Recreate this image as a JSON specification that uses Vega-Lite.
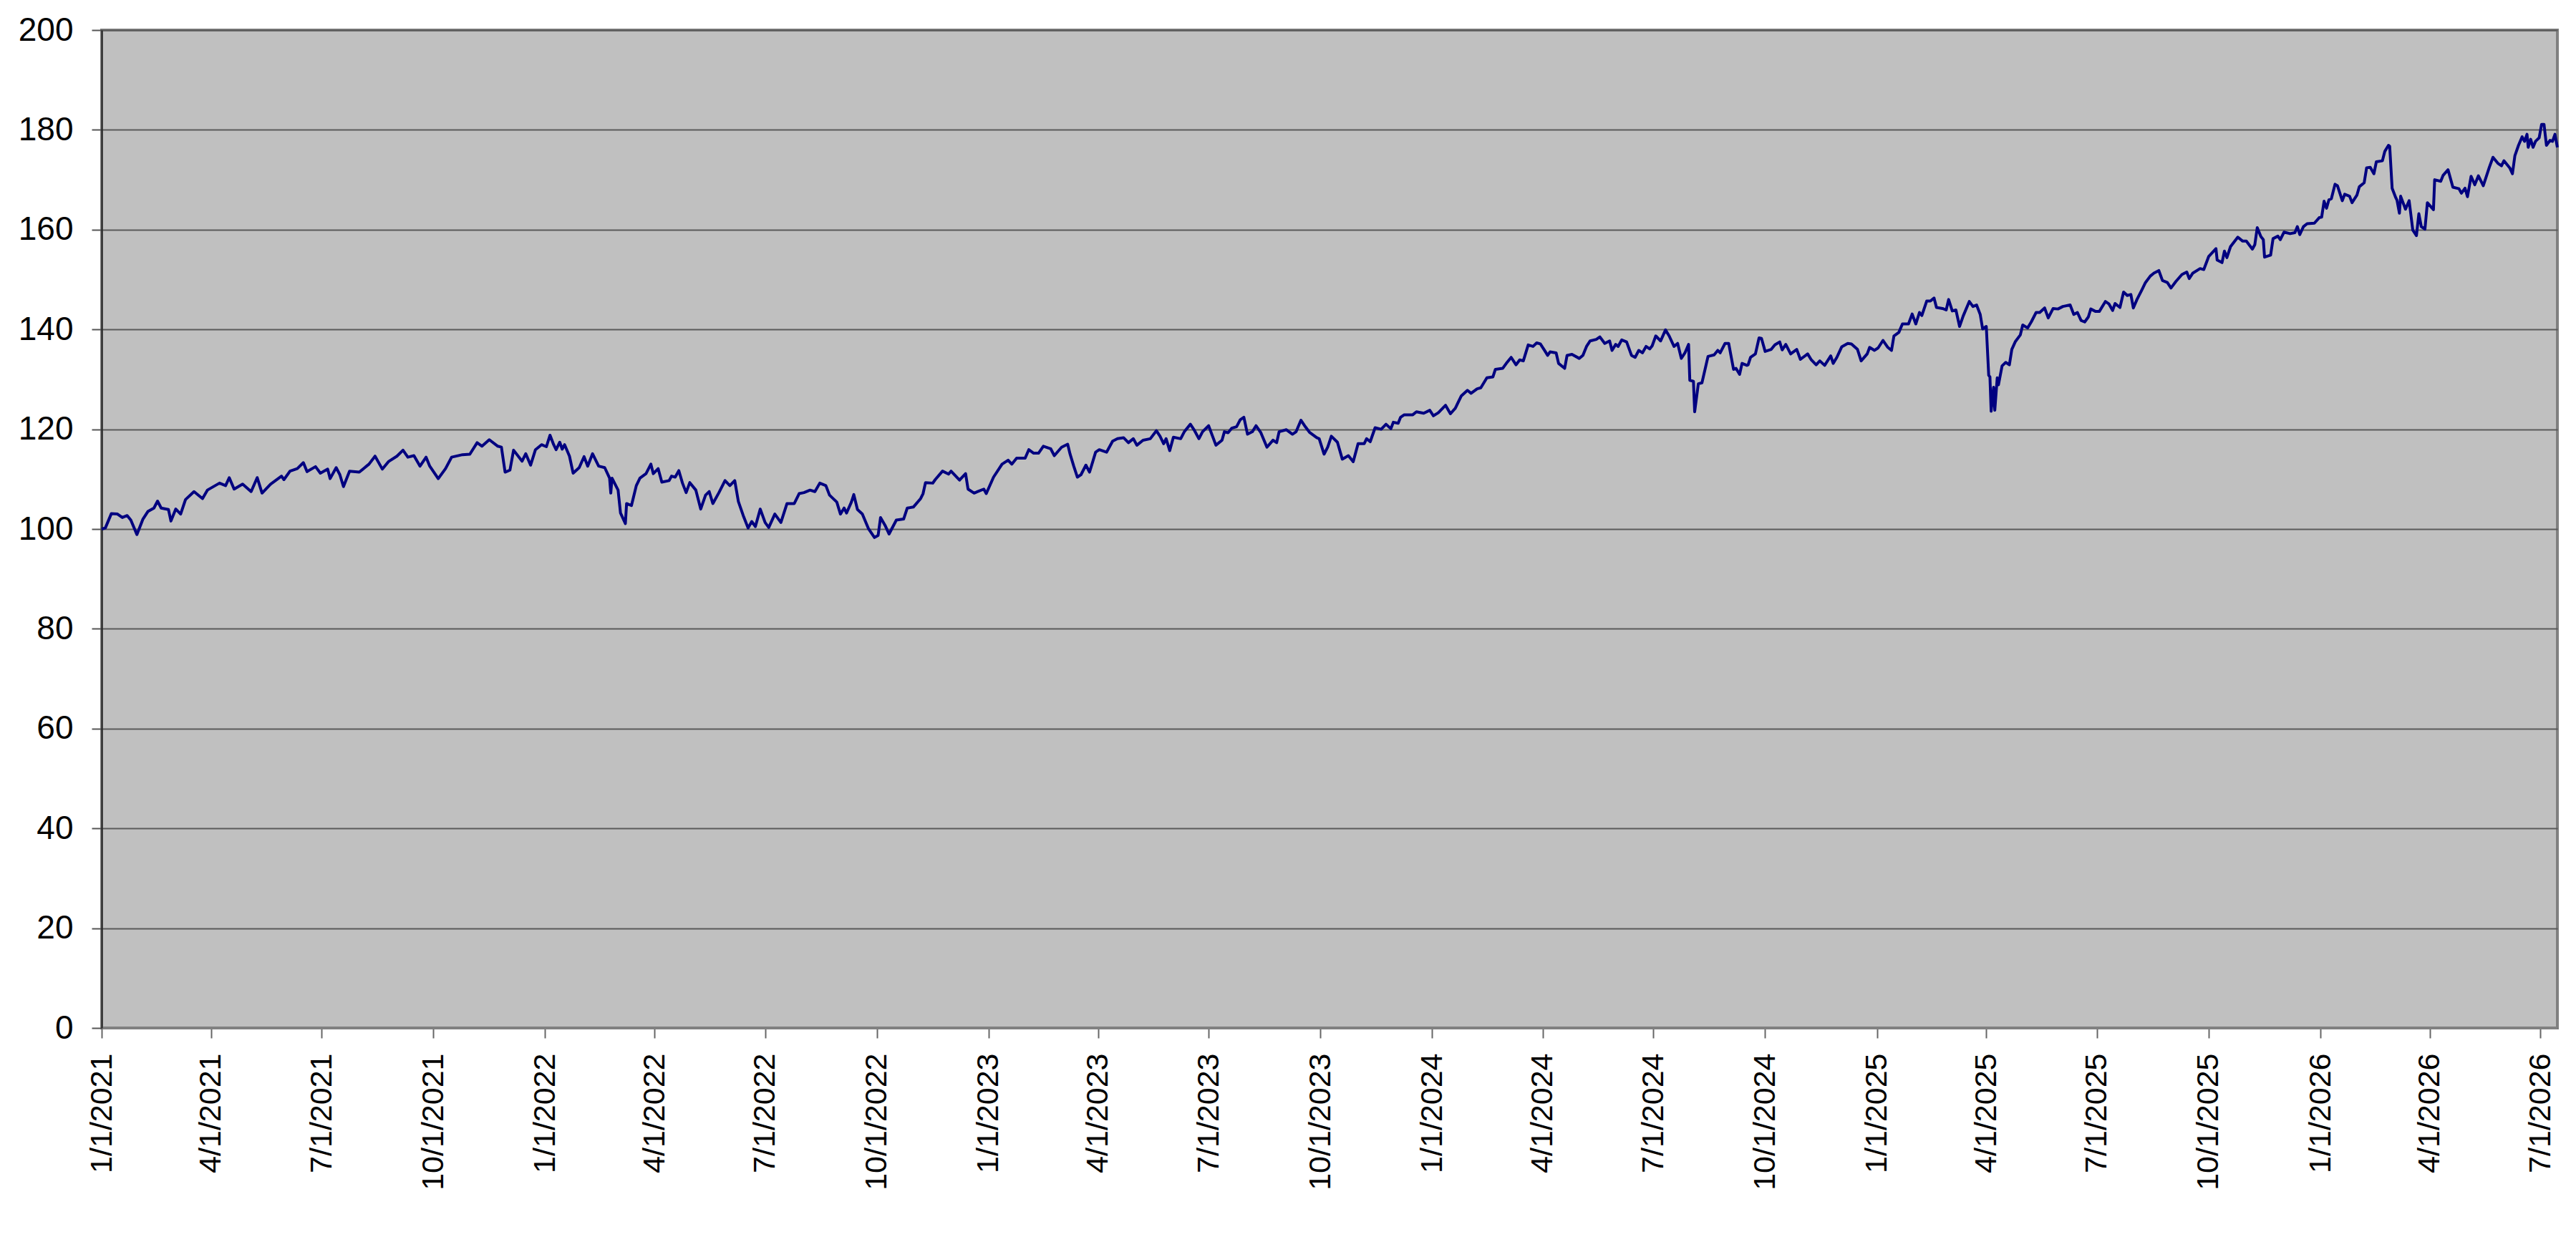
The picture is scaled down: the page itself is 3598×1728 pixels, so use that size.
{
  "$schema": "https://vega.github.io/schema/vega-lite/v6.json",
  "autosize": {"type": "none"},
  "padding": {"left": 142, "top": 42, "right": 26, "bottom": 292},
  "width": 3430,
  "height": 1394,
  "background": "#ffffff",
  "data": {
    "values": [
      {"d": "2021-01-01", "v": 100.0}, {"d": "2021-01-04", "v": 100.2}, {"d": "2021-01-09", "v": 103.1}, {"d": "2021-01-14", "v": 103.0},
      {"d": "2021-01-18", "v": 102.3}, {"d": "2021-01-22", "v": 102.7}, {"d": "2021-01-25", "v": 101.8}, {"d": "2021-01-30", "v": 98.9},
      {"d": "2021-02-04", "v": 102.0}, {"d": "2021-02-08", "v": 103.5}, {"d": "2021-02-13", "v": 104.2}, {"d": "2021-02-16", "v": 105.6},
      {"d": "2021-02-19", "v": 104.2}, {"d": "2021-02-25", "v": 103.9}, {"d": "2021-02-27", "v": 101.6}, {"d": "2021-03-03", "v": 104.0},
      {"d": "2021-03-07", "v": 103.0}, {"d": "2021-03-11", "v": 105.9}, {"d": "2021-03-18", "v": 107.5}, {"d": "2021-03-25", "v": 106.1},
      {"d": "2021-03-29", "v": 107.8}, {"d": "2021-04-08", "v": 109.2}, {"d": "2021-04-13", "v": 108.7}, {"d": "2021-04-16", "v": 110.3},
      {"d": "2021-04-20", "v": 108.0}, {"d": "2021-04-27", "v": 109.0}, {"d": "2021-05-04", "v": 107.5}, {"d": "2021-05-09", "v": 110.3},
      {"d": "2021-05-13", "v": 107.2}, {"d": "2021-05-20", "v": 109.0}, {"d": "2021-05-29", "v": 110.6}, {"d": "2021-05-31", "v": 109.9},
      {"d": "2021-06-05", "v": 111.6}, {"d": "2021-06-11", "v": 112.1}, {"d": "2021-06-16", "v": 113.3}, {"d": "2021-06-19", "v": 111.5},
      {"d": "2021-06-26", "v": 112.5}, {"d": "2021-06-30", "v": 111.2}, {"d": "2021-07-06", "v": 112.0}, {"d": "2021-07-08", "v": 110.1},
      {"d": "2021-07-13", "v": 112.3}, {"d": "2021-07-16", "v": 110.9}, {"d": "2021-07-19", "v": 108.5}, {"d": "2021-07-24", "v": 111.6},
      {"d": "2021-08-01", "v": 111.4}, {"d": "2021-08-09", "v": 113.0}, {"d": "2021-08-14", "v": 114.6}, {"d": "2021-08-20", "v": 112.0},
      {"d": "2021-08-25", "v": 113.5}, {"d": "2021-09-01", "v": 114.6}, {"d": "2021-09-06", "v": 115.8}, {"d": "2021-09-10", "v": 114.4},
      {"d": "2021-09-15", "v": 114.7}, {"d": "2021-09-20", "v": 112.6}, {"d": "2021-09-25", "v": 114.4}, {"d": "2021-09-28", "v": 112.6},
      {"d": "2021-10-05", "v": 110.1}, {"d": "2021-10-11", "v": 112.1}, {"d": "2021-10-16", "v": 114.4}, {"d": "2021-10-25", "v": 114.9},
      {"d": "2021-10-31", "v": 115.0}, {"d": "2021-11-06", "v": 117.3}, {"d": "2021-11-10", "v": 116.6}, {"d": "2021-11-16", "v": 117.9},
      {"d": "2021-11-23", "v": 116.6}, {"d": "2021-11-26", "v": 116.4}, {"d": "2021-11-29", "v": 111.4}, {"d": "2021-12-03", "v": 111.8},
      {"d": "2021-12-06", "v": 115.8}, {"d": "2021-12-13", "v": 113.6}, {"d": "2021-12-16", "v": 115.1}, {"d": "2021-12-20", "v": 112.8},
      {"d": "2021-12-24", "v": 115.9}, {"d": "2021-12-29", "v": 116.9}, {"d": "2022-01-02", "v": 116.5}, {"d": "2022-01-05", "v": 118.8},
      {"d": "2022-01-08", "v": 116.9}, {"d": "2022-01-10", "v": 115.9}, {"d": "2022-01-13", "v": 117.4}, {"d": "2022-01-15", "v": 116.0},
      {"d": "2022-01-17", "v": 116.9}, {"d": "2022-01-21", "v": 114.6}, {"d": "2022-01-24", "v": 111.2}, {"d": "2022-01-29", "v": 112.3},
      {"d": "2022-02-02", "v": 114.5}, {"d": "2022-02-05", "v": 112.6}, {"d": "2022-02-09", "v": 115.1}, {"d": "2022-02-14", "v": 112.6},
      {"d": "2022-02-19", "v": 112.3}, {"d": "2022-02-23", "v": 110.2}, {"d": "2022-02-24", "v": 107.2}, {"d": "2022-02-25", "v": 110.2},
      {"d": "2022-03-02", "v": 107.8}, {"d": "2022-03-04", "v": 103.2}, {"d": "2022-03-08", "v": 101.1}, {"d": "2022-03-09", "v": 105.1},
      {"d": "2022-03-13", "v": 104.7}, {"d": "2022-03-17", "v": 108.7}, {"d": "2022-03-20", "v": 110.2}, {"d": "2022-03-25", "v": 111.1},
      {"d": "2022-03-29", "v": 113.0}, {"d": "2022-03-31", "v": 111.1}, {"d": "2022-04-04", "v": 112.1}, {"d": "2022-04-07", "v": 109.4},
      {"d": "2022-04-13", "v": 109.7}, {"d": "2022-04-15", "v": 110.6}, {"d": "2022-04-18", "v": 110.4}, {"d": "2022-04-21", "v": 111.7},
      {"d": "2022-04-24", "v": 109.2}, {"d": "2022-04-27", "v": 107.3}, {"d": "2022-04-30", "v": 109.3}, {"d": "2022-05-05", "v": 107.8},
      {"d": "2022-05-09", "v": 104.0}, {"d": "2022-05-13", "v": 106.8}, {"d": "2022-05-16", "v": 107.5}, {"d": "2022-05-19", "v": 105.1},
      {"d": "2022-05-24", "v": 107.3}, {"d": "2022-05-29", "v": 109.7}, {"d": "2022-06-02", "v": 108.7}, {"d": "2022-06-06", "v": 109.7},
      {"d": "2022-06-09", "v": 105.5}, {"d": "2022-06-13", "v": 102.7}, {"d": "2022-06-17", "v": 100.2}, {"d": "2022-06-20", "v": 101.5},
      {"d": "2022-06-23", "v": 100.5}, {"d": "2022-06-27", "v": 104.0}, {"d": "2022-07-01", "v": 101.3}, {"d": "2022-07-04", "v": 100.3},
      {"d": "2022-07-09", "v": 103.0}, {"d": "2022-07-14", "v": 101.3}, {"d": "2022-07-19", "v": 105.1}, {"d": "2022-07-25", "v": 105.1},
      {"d": "2022-07-29", "v": 107.1}, {"d": "2022-08-02", "v": 107.3}, {"d": "2022-08-07", "v": 107.8}, {"d": "2022-08-11", "v": 107.5},
      {"d": "2022-08-15", "v": 109.2}, {"d": "2022-08-20", "v": 108.7}, {"d": "2022-08-23", "v": 106.8}, {"d": "2022-08-29", "v": 105.4},
      {"d": "2022-09-01", "v": 103.0}, {"d": "2022-09-04", "v": 104.2}, {"d": "2022-09-06", "v": 103.2}, {"d": "2022-09-10", "v": 105.4},
      {"d": "2022-09-12", "v": 106.9}, {"d": "2022-09-15", "v": 103.9}, {"d": "2022-09-19", "v": 103.0}, {"d": "2022-09-24", "v": 100.1},
      {"d": "2022-09-29", "v": 98.3}, {"d": "2022-10-02", "v": 98.7}, {"d": "2022-10-04", "v": 102.3}, {"d": "2022-10-08", "v": 100.6},
      {"d": "2022-10-11", "v": 99.0}, {"d": "2022-10-17", "v": 101.8}, {"d": "2022-10-23", "v": 102.0}, {"d": "2022-10-26", "v": 104.2},
      {"d": "2022-10-31", "v": 104.4}, {"d": "2022-11-06", "v": 106.1}, {"d": "2022-11-08", "v": 107.1}, {"d": "2022-11-10", "v": 109.3},
      {"d": "2022-11-16", "v": 109.2}, {"d": "2022-11-18", "v": 109.9}, {"d": "2022-11-24", "v": 111.6}, {"d": "2022-11-29", "v": 111.0},
      {"d": "2022-12-01", "v": 111.6}, {"d": "2022-12-08", "v": 109.8}, {"d": "2022-12-13", "v": 111.1}, {"d": "2022-12-15", "v": 108.0},
      {"d": "2022-12-20", "v": 107.2}, {"d": "2022-12-23", "v": 107.5}, {"d": "2022-12-28", "v": 108.0}, {"d": "2022-12-30", "v": 107.1},
      {"d": "2023-01-05", "v": 110.4}, {"d": "2023-01-12", "v": 113.0}, {"d": "2023-01-17", "v": 113.8}, {"d": "2023-01-20", "v": 113.0},
      {"d": "2023-01-24", "v": 114.2}, {"d": "2023-01-31", "v": 114.2}, {"d": "2023-02-03", "v": 115.9}, {"d": "2023-02-07", "v": 115.2},
      {"d": "2023-02-11", "v": 115.2}, {"d": "2023-02-15", "v": 116.6}, {"d": "2023-02-21", "v": 116.1}, {"d": "2023-02-24", "v": 114.7},
      {"d": "2023-03-02", "v": 116.4}, {"d": "2023-03-07", "v": 117.0}, {"d": "2023-03-09", "v": 115.0}, {"d": "2023-03-12", "v": 112.6},
      {"d": "2023-03-15", "v": 110.4}, {"d": "2023-03-18", "v": 110.9}, {"d": "2023-03-22", "v": 112.8}, {"d": "2023-03-25", "v": 111.4},
      {"d": "2023-03-30", "v": 115.4}, {"d": "2023-04-02", "v": 115.9}, {"d": "2023-04-08", "v": 115.4}, {"d": "2023-04-13", "v": 117.6},
      {"d": "2023-04-17", "v": 118.1}, {"d": "2023-04-22", "v": 118.3}, {"d": "2023-04-26", "v": 117.3}, {"d": "2023-04-30", "v": 118.1},
      {"d": "2023-05-03", "v": 116.8}, {"d": "2023-05-08", "v": 117.8}, {"d": "2023-05-14", "v": 118.1}, {"d": "2023-05-19", "v": 119.7},
      {"d": "2023-05-22", "v": 118.6}, {"d": "2023-05-25", "v": 117.1}, {"d": "2023-05-27", "v": 118.1}, {"d": "2023-05-30", "v": 115.7},
      {"d": "2023-06-02", "v": 118.4}, {"d": "2023-06-08", "v": 118.1}, {"d": "2023-06-11", "v": 119.5}, {"d": "2023-06-16", "v": 121.0},
      {"d": "2023-06-19", "v": 119.9}, {"d": "2023-06-23", "v": 118.1}, {"d": "2023-06-26", "v": 119.5}, {"d": "2023-07-01", "v": 120.7},
      {"d": "2023-07-07", "v": 116.8}, {"d": "2023-07-12", "v": 117.8}, {"d": "2023-07-14", "v": 119.5}, {"d": "2023-07-17", "v": 119.3},
      {"d": "2023-07-20", "v": 120.2}, {"d": "2023-07-24", "v": 120.5}, {"d": "2023-07-27", "v": 121.9}, {"d": "2023-07-30", "v": 122.4},
      {"d": "2023-08-02", "v": 119.0}, {"d": "2023-08-06", "v": 119.5}, {"d": "2023-08-09", "v": 120.7}, {"d": "2023-08-13", "v": 119.3},
      {"d": "2023-08-18", "v": 116.4}, {"d": "2023-08-23", "v": 117.8}, {"d": "2023-08-26", "v": 117.3}, {"d": "2023-08-28", "v": 119.5},
      {"d": "2023-09-03", "v": 119.9}, {"d": "2023-09-08", "v": 119.0}, {"d": "2023-09-11", "v": 119.5}, {"d": "2023-09-15", "v": 121.8},
      {"d": "2023-09-18", "v": 120.7}, {"d": "2023-09-22", "v": 119.4}, {"d": "2023-09-28", "v": 118.3}, {"d": "2023-09-30", "v": 118.1},
      {"d": "2023-10-04", "v": 115.0}, {"d": "2023-10-07", "v": 116.4}, {"d": "2023-10-10", "v": 118.6}, {"d": "2023-10-15", "v": 117.4},
      {"d": "2023-10-19", "v": 114.0}, {"d": "2023-10-24", "v": 114.7}, {"d": "2023-10-28", "v": 113.5}, {"d": "2023-11-01", "v": 117.1},
      {"d": "2023-11-06", "v": 117.1}, {"d": "2023-11-08", "v": 118.1}, {"d": "2023-11-11", "v": 117.5}, {"d": "2023-11-15", "v": 120.3},
      {"d": "2023-11-20", "v": 120.0}, {"d": "2023-11-24", "v": 121.0}, {"d": "2023-11-28", "v": 120.1}, {"d": "2023-11-30", "v": 121.4},
      {"d": "2023-12-04", "v": 121.2}, {"d": "2023-12-06", "v": 122.4}, {"d": "2023-12-09", "v": 122.9}, {"d": "2023-12-16", "v": 122.9},
      {"d": "2023-12-19", "v": 123.5}, {"d": "2023-12-25", "v": 123.2}, {"d": "2023-12-30", "v": 123.8}, {"d": "2024-01-02", "v": 122.7},
      {"d": "2024-01-06", "v": 123.3}, {"d": "2024-01-12", "v": 124.8}, {"d": "2024-01-16", "v": 123.1}, {"d": "2024-01-20", "v": 124.2},
      {"d": "2024-01-25", "v": 126.7}, {"d": "2024-01-30", "v": 127.8}, {"d": "2024-02-02", "v": 127.2}, {"d": "2024-02-07", "v": 128.1},
      {"d": "2024-02-10", "v": 128.3}, {"d": "2024-02-15", "v": 130.3}, {"d": "2024-02-20", "v": 130.5}, {"d": "2024-02-22", "v": 132.0},
      {"d": "2024-02-28", "v": 132.2}, {"d": "2024-03-02", "v": 133.2}, {"d": "2024-03-06", "v": 134.4}, {"d": "2024-03-10", "v": 132.9},
      {"d": "2024-03-13", "v": 133.9}, {"d": "2024-03-16", "v": 133.7}, {"d": "2024-03-20", "v": 136.9}, {"d": "2024-03-24", "v": 136.6},
      {"d": "2024-03-27", "v": 137.3}, {"d": "2024-03-30", "v": 137.1}, {"d": "2024-04-03", "v": 135.6}, {"d": "2024-04-05", "v": 134.8},
      {"d": "2024-04-07", "v": 135.5}, {"d": "2024-04-12", "v": 135.3}, {"d": "2024-04-14", "v": 133.2}, {"d": "2024-04-19", "v": 132.2},
      {"d": "2024-04-21", "v": 134.8}, {"d": "2024-04-25", "v": 135.0}, {"d": "2024-05-01", "v": 134.2}, {"d": "2024-05-04", "v": 134.8},
      {"d": "2024-05-07", "v": 136.6}, {"d": "2024-05-10", "v": 137.7}, {"d": "2024-05-15", "v": 138.0}, {"d": "2024-05-18", "v": 138.5},
      {"d": "2024-05-22", "v": 137.2}, {"d": "2024-05-26", "v": 137.7}, {"d": "2024-05-28", "v": 135.8}, {"d": "2024-05-31", "v": 137.0},
      {"d": "2024-06-02", "v": 136.6}, {"d": "2024-06-05", "v": 137.9}, {"d": "2024-06-09", "v": 137.5}, {"d": "2024-06-13", "v": 134.8},
      {"d": "2024-06-16", "v": 134.4}, {"d": "2024-06-19", "v": 135.8}, {"d": "2024-06-22", "v": 135.3}, {"d": "2024-06-25", "v": 136.6},
      {"d": "2024-06-28", "v": 136.1}, {"d": "2024-06-30", "v": 136.7}, {"d": "2024-07-03", "v": 138.7}, {"d": "2024-07-07", "v": 137.7},
      {"d": "2024-07-11", "v": 139.9}, {"d": "2024-07-14", "v": 138.7}, {"d": "2024-07-18", "v": 136.6}, {"d": "2024-07-21", "v": 137.2},
      {"d": "2024-07-24", "v": 134.2}, {"d": "2024-07-27", "v": 135.3}, {"d": "2024-07-30", "v": 137.0}, {"d": "2024-07-31", "v": 129.8},
      {"d": "2024-08-03", "v": 129.6}, {"d": "2024-08-04", "v": 123.5}, {"d": "2024-08-07", "v": 129.1}, {"d": "2024-08-10", "v": 129.3},
      {"d": "2024-08-15", "v": 134.6}, {"d": "2024-08-20", "v": 134.9}, {"d": "2024-08-23", "v": 135.8}, {"d": "2024-08-25", "v": 135.3},
      {"d": "2024-08-29", "v": 137.2}, {"d": "2024-09-01", "v": 137.2}, {"d": "2024-09-05", "v": 132.0}, {"d": "2024-09-07", "v": 132.2},
      {"d": "2024-09-10", "v": 131.0}, {"d": "2024-09-12", "v": 133.2}, {"d": "2024-09-16", "v": 132.8}, {"d": "2024-09-17", "v": 132.9},
      {"d": "2024-09-19", "v": 134.4}, {"d": "2024-09-23", "v": 135.1}, {"d": "2024-09-26", "v": 138.3}, {"d": "2024-09-28", "v": 138.2},
      {"d": "2024-10-01", "v": 135.6}, {"d": "2024-10-06", "v": 136.0}, {"d": "2024-10-09", "v": 136.9}, {"d": "2024-10-13", "v": 137.5},
      {"d": "2024-10-15", "v": 135.9}, {"d": "2024-10-18", "v": 137.0}, {"d": "2024-10-22", "v": 135.1}, {"d": "2024-10-27", "v": 136.0},
      {"d": "2024-10-30", "v": 134.0}, {"d": "2024-11-05", "v": 135.1}, {"d": "2024-11-08", "v": 133.9}, {"d": "2024-11-12", "v": 132.9},
      {"d": "2024-11-15", "v": 133.7}, {"d": "2024-11-19", "v": 132.8}, {"d": "2024-11-24", "v": 134.7}, {"d": "2024-11-26", "v": 133.2},
      {"d": "2024-11-29", "v": 134.4}, {"d": "2024-12-03", "v": 136.5}, {"d": "2024-12-08", "v": 137.2}, {"d": "2024-12-11", "v": 137.1},
      {"d": "2024-12-16", "v": 136.0}, {"d": "2024-12-19", "v": 133.7}, {"d": "2024-12-24", "v": 135.1}, {"d": "2024-12-26", "v": 136.4},
      {"d": "2024-12-30", "v": 135.8}, {"d": "2025-01-02", "v": 136.3}, {"d": "2025-01-06", "v": 137.8}, {"d": "2025-01-10", "v": 136.4},
      {"d": "2025-01-13", "v": 135.8}, {"d": "2025-01-15", "v": 138.7}, {"d": "2025-01-19", "v": 139.4}, {"d": "2025-01-22", "v": 141.1},
      {"d": "2025-01-27", "v": 141.1}, {"d": "2025-01-30", "v": 143.1}, {"d": "2025-02-02", "v": 141.1}, {"d": "2025-02-05", "v": 143.4},
      {"d": "2025-02-07", "v": 142.8}, {"d": "2025-02-11", "v": 145.7}, {"d": "2025-02-14", "v": 145.7}, {"d": "2025-02-17", "v": 146.3},
      {"d": "2025-02-19", "v": 144.4}, {"d": "2025-02-24", "v": 144.2}, {"d": "2025-02-27", "v": 143.9}, {"d": "2025-03-01", "v": 146.0},
      {"d": "2025-03-04", "v": 143.7}, {"d": "2025-03-07", "v": 143.9}, {"d": "2025-03-10", "v": 140.6}, {"d": "2025-03-13", "v": 142.7},
      {"d": "2025-03-18", "v": 145.6}, {"d": "2025-03-21", "v": 144.6}, {"d": "2025-03-24", "v": 144.9}, {"d": "2025-03-27", "v": 143.0},
      {"d": "2025-03-29", "v": 140.1}, {"d": "2025-04-01", "v": 140.6}, {"d": "2025-04-03", "v": 130.8}, {"d": "2025-04-04", "v": 130.5},
      {"d": "2025-04-05", "v": 123.6}, {"d": "2025-04-07", "v": 128.4}, {"d": "2025-04-08", "v": 123.8}, {"d": "2025-04-10", "v": 130.3},
      {"d": "2025-04-11", "v": 128.9}, {"d": "2025-04-14", "v": 132.7}, {"d": "2025-04-17", "v": 133.4}, {"d": "2025-04-20", "v": 132.9},
      {"d": "2025-04-22", "v": 136.0}, {"d": "2025-04-25", "v": 137.6}, {"d": "2025-04-29", "v": 138.9}, {"d": "2025-05-01", "v": 140.9},
      {"d": "2025-05-05", "v": 140.3}, {"d": "2025-05-08", "v": 141.5}, {"d": "2025-05-12", "v": 143.4}, {"d": "2025-05-15", "v": 143.4},
      {"d": "2025-05-19", "v": 144.3}, {"d": "2025-05-22", "v": 142.3}, {"d": "2025-05-26", "v": 144.2}, {"d": "2025-05-30", "v": 144.1},
      {"d": "2025-06-03", "v": 144.6}, {"d": "2025-06-09", "v": 144.9}, {"d": "2025-06-12", "v": 143.0}, {"d": "2025-06-15", "v": 143.4},
      {"d": "2025-06-18", "v": 141.8}, {"d": "2025-06-21", "v": 141.5}, {"d": "2025-06-24", "v": 142.5}, {"d": "2025-06-26", "v": 144.1},
      {"d": "2025-06-30", "v": 143.6}, {"d": "2025-07-03", "v": 143.6}, {"d": "2025-07-08", "v": 145.6}, {"d": "2025-07-11", "v": 145.1},
      {"d": "2025-07-14", "v": 143.8}, {"d": "2025-07-16", "v": 145.2}, {"d": "2025-07-20", "v": 144.4}, {"d": "2025-07-23", "v": 147.5},
      {"d": "2025-07-26", "v": 146.8}, {"d": "2025-07-29", "v": 147.0}, {"d": "2025-07-31", "v": 144.3}, {"d": "2025-08-03", "v": 146.0},
      {"d": "2025-08-07", "v": 147.9}, {"d": "2025-08-10", "v": 149.4}, {"d": "2025-08-14", "v": 150.7}, {"d": "2025-08-17", "v": 151.3},
      {"d": "2025-08-21", "v": 151.8}, {"d": "2025-08-24", "v": 149.8}, {"d": "2025-08-28", "v": 149.4}, {"d": "2025-08-31", "v": 148.3},
      {"d": "2025-09-04", "v": 149.6}, {"d": "2025-09-09", "v": 151.0}, {"d": "2025-09-13", "v": 151.5}, {"d": "2025-09-15", "v": 150.2},
      {"d": "2025-09-18", "v": 151.3}, {"d": "2025-09-24", "v": 152.2}, {"d": "2025-09-27", "v": 152.0}, {"d": "2025-10-01", "v": 154.6},
      {"d": "2025-10-07", "v": 156.2}, {"d": "2025-10-08", "v": 153.9}, {"d": "2025-10-12", "v": 153.4}, {"d": "2025-10-14", "v": 155.7},
      {"d": "2025-10-16", "v": 154.4}, {"d": "2025-10-19", "v": 156.6}, {"d": "2025-10-25", "v": 158.5}, {"d": "2025-10-29", "v": 157.7},
      {"d": "2025-11-01", "v": 157.7}, {"d": "2025-11-06", "v": 156.1}, {"d": "2025-11-08", "v": 157.0}, {"d": "2025-11-10", "v": 160.4},
      {"d": "2025-11-13", "v": 158.6}, {"d": "2025-11-15", "v": 158.0}, {"d": "2025-11-16", "v": 154.5}, {"d": "2025-11-21", "v": 154.9},
      {"d": "2025-11-23", "v": 158.2}, {"d": "2025-11-27", "v": 158.7}, {"d": "2025-11-29", "v": 158.0}, {"d": "2025-12-02", "v": 159.5},
      {"d": "2025-12-07", "v": 159.2}, {"d": "2025-12-11", "v": 159.4}, {"d": "2025-12-13", "v": 160.6}, {"d": "2025-12-15", "v": 159.0},
      {"d": "2025-12-18", "v": 160.6}, {"d": "2025-12-21", "v": 161.2}, {"d": "2025-12-27", "v": 161.3}, {"d": "2025-12-31", "v": 162.4},
      {"d": "2026-01-02", "v": 162.5}, {"d": "2026-01-04", "v": 165.7}, {"d": "2026-01-06", "v": 164.3}, {"d": "2026-01-08", "v": 166.0},
      {"d": "2026-01-10", "v": 166.2}, {"d": "2026-01-13", "v": 169.1}, {"d": "2026-01-15", "v": 168.8}, {"d": "2026-01-19", "v": 165.8},
      {"d": "2026-01-21", "v": 167.1}, {"d": "2026-01-25", "v": 166.7}, {"d": "2026-01-27", "v": 165.4}, {"d": "2026-01-31", "v": 166.9},
      {"d": "2026-02-02", "v": 168.6}, {"d": "2026-02-06", "v": 169.4}, {"d": "2026-02-08", "v": 172.4}, {"d": "2026-02-11", "v": 172.5},
      {"d": "2026-02-14", "v": 171.2}, {"d": "2026-02-16", "v": 173.6}, {"d": "2026-02-21", "v": 173.8}, {"d": "2026-02-23", "v": 175.7},
      {"d": "2026-02-26", "v": 176.9}, {"d": "2026-02-27", "v": 176.7}, {"d": "2026-03-01", "v": 168.3}, {"d": "2026-03-04", "v": 166.4},
      {"d": "2026-03-05", "v": 165.9}, {"d": "2026-03-07", "v": 163.3}, {"d": "2026-03-08", "v": 166.7}, {"d": "2026-03-12", "v": 164.1},
      {"d": "2026-03-15", "v": 165.8}, {"d": "2026-03-18", "v": 159.9}, {"d": "2026-03-21", "v": 158.8}, {"d": "2026-03-23", "v": 163.2},
      {"d": "2026-03-25", "v": 160.6}, {"d": "2026-03-28", "v": 160.1}, {"d": "2026-03-30", "v": 165.4}, {"d": "2026-04-04", "v": 164.0},
      {"d": "2026-04-05", "v": 170.0}, {"d": "2026-04-10", "v": 169.7}, {"d": "2026-04-12", "v": 170.9}, {"d": "2026-04-16", "v": 172.0},
      {"d": "2026-04-20", "v": 168.5}, {"d": "2026-04-25", "v": 168.2}, {"d": "2026-04-27", "v": 167.3}, {"d": "2026-04-30", "v": 168.3},
      {"d": "2026-05-02", "v": 166.6}, {"d": "2026-05-05", "v": 170.7}, {"d": "2026-05-08", "v": 169.0}, {"d": "2026-05-11", "v": 170.8},
      {"d": "2026-05-15", "v": 168.8}, {"d": "2026-05-20", "v": 172.5}, {"d": "2026-05-23", "v": 174.5}, {"d": "2026-05-27", "v": 173.3},
      {"d": "2026-05-30", "v": 172.8}, {"d": "2026-06-01", "v": 173.8}, {"d": "2026-06-06", "v": 172.3}, {"d": "2026-06-08", "v": 171.2},
      {"d": "2026-06-10", "v": 174.8}, {"d": "2026-06-13", "v": 176.9}, {"d": "2026-06-16", "v": 178.6}, {"d": "2026-06-18", "v": 177.7},
      {"d": "2026-06-20", "v": 179.1}, {"d": "2026-06-21", "v": 176.5}, {"d": "2026-06-23", "v": 178.1}, {"d": "2026-06-25", "v": 176.5},
      {"d": "2026-06-27", "v": 177.7}, {"d": "2026-06-30", "v": 178.4}, {"d": "2026-07-02", "v": 181.1}, {"d": "2026-07-04", "v": 181.1},
      {"d": "2026-07-06", "v": 176.9}, {"d": "2026-07-09", "v": 177.9}, {"d": "2026-07-11", "v": 177.7}, {"d": "2026-07-13", "v": 179.1},
      {"d": "2026-07-15", "v": 176.5}
    ]
  },
  "mark": {"type": "line", "color": "#000080", "strokeWidth": 4, "strokeJoin": "round"},
  "encoding": {
    "x": {
      "field": "d",
      "type": "temporal",
      "title": null,
      "scale": {
        "type": "utc",
        "domain": [
          {"year": 2021, "month": 1, "date": 1, "utc": true},
          {"year": 2026, "month": 7, "date": 15, "utc": true}
        ],
        "nice": false
      },
      "axis": {
        "labelExpr": "utcFormat(datum.value, '%-m/%-d/%Y')",
        "labelAngle": -90,
        "labelAlign": "right",
        "labelBaseline": "middle",
        "labelPadding": 21,
        "labelFontSize": 43,
        "labelLimit": 600,
        "tickSize": 14,
        "tickWidth": 2,
        "tickColor": "#666666",
        "domainColor": "#808080",
        "domainWidth": 3,
        "grid": false,
        "labelOverlap": false,
        "labelFlush": false,
        "values": [
          {"year": 2021, "month": 1, "date": 1, "utc": true}, {"year": 2021, "month": 4, "date": 1, "utc": true},
          {"year": 2021, "month": 7, "date": 1, "utc": true}, {"year": 2021, "month": 10, "date": 1, "utc": true},
          {"year": 2022, "month": 1, "date": 1, "utc": true}, {"year": 2022, "month": 4, "date": 1, "utc": true},
          {"year": 2022, "month": 7, "date": 1, "utc": true}, {"year": 2022, "month": 10, "date": 1, "utc": true},
          {"year": 2023, "month": 1, "date": 1, "utc": true}, {"year": 2023, "month": 4, "date": 1, "utc": true},
          {"year": 2023, "month": 7, "date": 1, "utc": true}, {"year": 2023, "month": 10, "date": 1, "utc": true},
          {"year": 2024, "month": 1, "date": 1, "utc": true}, {"year": 2024, "month": 4, "date": 1, "utc": true},
          {"year": 2024, "month": 7, "date": 1, "utc": true}, {"year": 2024, "month": 10, "date": 1, "utc": true},
          {"year": 2025, "month": 1, "date": 1, "utc": true}, {"year": 2025, "month": 4, "date": 1, "utc": true},
          {"year": 2025, "month": 7, "date": 1, "utc": true}, {"year": 2025, "month": 10, "date": 1, "utc": true},
          {"year": 2026, "month": 1, "date": 1, "utc": true}, {"year": 2026, "month": 4, "date": 1, "utc": true},
          {"year": 2026, "month": 7, "date": 1, "utc": true}
        ]
      }
    },
    "y": {
      "field": "v",
      "type": "quantitative",
      "title": null,
      "scale": {"domain": [0, 200], "nice": false, "zero": true},
      "axis": {
        "values": [0, 20, 40, 60, 80, 100, 120, 140, 160, 180, 200],
        "labelFontSize": 46,
        "labelPadding": 26,
        "tickSize": 14,
        "tickWidth": 2,
        "tickColor": "#555555",
        "domainColor": "#222222",
        "domainWidth": 2,
        "grid": true,
        "gridColor": "#5a5a5a",
        "gridWidth": 2,
        "labelFlush": false
      }
    }
  },
  "config": {
    "font": "Liberation Sans",
    "axis": {"labelColor": "#000000", "labelFont": "Liberation Sans"},
    "view": {"fill": "#c0c0c0", "stroke": "#808080", "strokeWidth": 4}
  }
}
